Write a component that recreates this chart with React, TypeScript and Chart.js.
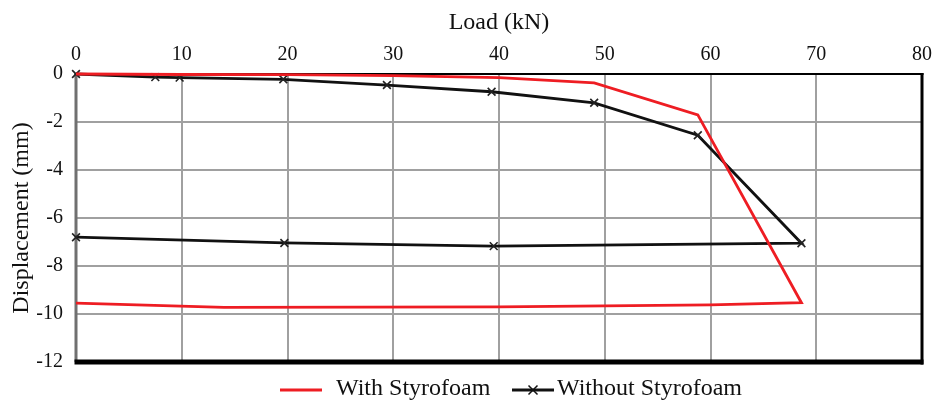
import React, { useEffect, useRef } from "react";
import { Chart, registerables } from "chart.js";

Chart.register(...registerables);

// ---- data ----
const seriesNames = ["With Styrofoam", "Without Styrofoam"];
const loadWith = [0, 10, 20, 30, 40, 49, 58.8, 68.6, 60, 40, 14, 0];
const dispWith = [0, -0.02, -0.03, -0.07, -0.15, -0.37, -1.7, -9.53, -9.62, -9.7, -9.72, -9.55];
const loadWithout = [0, 7.5, 9.8, 19.6, 29.4, 39.3, 49, 58.8, 68.6, 39.5, 19.7, 0];
const dispWithout = [0, -0.13, -0.15, -0.22, -0.46, -0.74, -1.2, -2.55, -7.05, -7.17, -7.04, -6.8];
const xTitle = "Load (kN)";
const yTitle = "Displacement (mm)";
const xRange = [0, 80];
const yRange = [-12, 0];
const xStep = 10;
const yStep = 2;

const RED = "#ee1d23";
const BLACK = "#111111";
const FONT = "'Liberation Serif', 'Times New Roman', serif";

const framePlugin = {
  id: "frame",
  beforeDatasetsDraw(chart: any) {
    const { ctx, chartArea } = chart;
    const { left, right, top, bottom } = chartArea;
    ctx.save();
    ctx.lineCap = "butt";
    ctx.strokeStyle = "#707070";
    ctx.lineWidth = 3;
    ctx.beginPath();
    ctx.moveTo(left, top);
    ctx.lineTo(left, bottom);
    ctx.stroke();
    ctx.strokeStyle = "#000";
    ctx.lineWidth = 2;
    ctx.beginPath();
    ctx.moveTo(left - 1.5, top);
    ctx.lineTo(right + 1.5, top);
    ctx.stroke();
    ctx.lineWidth = 3;
    ctx.beginPath();
    ctx.moveTo(right, top - 1);
    ctx.lineTo(right, bottom + 2.5);
    ctx.stroke();
    ctx.lineWidth = 5;
    ctx.beginPath();
    ctx.moveTo(left - 1.5, bottom);
    ctx.lineTo(right + 1.5, bottom);
    ctx.stroke();
    ctx.restore();
  },
};

// legend drawn below the plot: [line start, text start] for each series
const legendSlots = [
  [280, 336],
  [512, 557],
];
const legendPlugin = {
  id: "customLegend",
  afterDraw(chart: any) {
    const { ctx } = chart;
    const y = 390;
    ctx.save();
    chart.data.datasets.forEach((ds: any, i: number) => {
      const [lx, tx] = legendSlots[i];
      ctx.strokeStyle = ds.borderColor;
      ctx.lineWidth = 3;
      ctx.beginPath();
      ctx.moveTo(lx, y);
      ctx.lineTo(lx + 42, y);
      ctx.stroke();
      if (ds.pointRadius > 0) {
        const cx = lx + 21;
        const r = 4.5;
        ctx.lineWidth = 1.5;
        ctx.beginPath();
        ctx.moveTo(cx - r, y - r);
        ctx.lineTo(cx + r, y + r);
        ctx.moveTo(cx + r, y - r);
        ctx.lineTo(cx - r, y + r);
        ctx.stroke();
      }
      ctx.fillStyle = "#111";
      ctx.font = `24px ${FONT}`;
      ctx.textBaseline = "middle";
      ctx.textAlign = "left";
      ctx.fillText(ds.label, tx, y - 1);
    });
    ctx.restore();
  },
};

export default function App() {
  const ref = useRef<HTMLCanvasElement | null>(null);

  useEffect(() => {
    if (!ref.current) return;
    const chart = new Chart(ref.current, {
      type: "scatter",
      data: {
        datasets: [
          {
            label: seriesNames[0],
            data: loadWith.map((x, i) => ({ x, y: dispWith[i] })),
            showLine: true,
            borderColor: RED,
            backgroundColor: RED,
            borderWidth: 2.8,
            pointRadius: 0,
            tension: 0,
            clip: false as any,
          },
          {
            label: seriesNames[1],
            data: loadWithout.map((x, i) => ({ x, y: dispWithout[i] })),
            showLine: true,
            borderColor: BLACK,
            backgroundColor: BLACK,
            borderWidth: 2.8,
            pointStyle: "crossRot",
            pointRadius: 5.5,
            pointBorderWidth: 1.6,
            pointBorderColor: "#222",
            tension: 0,
            clip: false as any,
          },
        ],
      },
      options: {
        responsive: false,
        animation: false,
        devicePixelRatio: 1,
        layout: { padding: { left: 0, right: 10, top: 0, bottom: 38 } },
        plugins: {
          tooltip: { enabled: false },
          legend: { display: false },
        },
        scales: {
          x: {
            type: "linear",
            position: "top",
            min: xRange[0],
            max: xRange[1],
            ticks: {
              stepSize: xStep,
              padding: 7,
              color: "#111",
              font: { family: FONT, size: 20 },
              maxRotation: 0,
            },
            grid: { color: "#a0a0a0", lineWidth: 2, drawTicks: false },
            border: { display: false },
            title: {
              display: true,
              text: xTitle,
              color: "#111",
              font: { family: FONT, size: 24 },
              padding: { top: 8, bottom: 0 },
            },
            afterFit: (s: any) => {
              s.height = 74;
              s.paddingLeft = 0;
              s.paddingRight = 0;
            },
          },
          y: {
            type: "linear",
            position: "left",
            min: yRange[0],
            max: yRange[1],
            ticks: {
              stepSize: yStep,
              padding: 13,
              color: "#111",
              font: { family: FONT, size: 20 },
            },
            grid: { color: "#a0a0a0", lineWidth: 2, drawTicks: false },
            border: { display: false },
            title: {
              display: true,
              text: yTitle,
              color: "#111",
              font: { family: FONT, size: 24 },
              padding: { top: 7, bottom: 0 },
            },
            afterFit: (s: any) => {
              s.width = 76;
              s.paddingTop = 0;
              s.paddingBottom = 0;
            },
          },
        },
      },
      plugins: [framePlugin, legendPlugin],
    } as any);
    return () => chart.destroy();
  }, []);

  return (
    <div style={{ position: "absolute", left: 0, top: 0, width: 932, height: 400, background: "#fff" }}>
      <canvas ref={ref} width={932} height={400} style={{ display: "block" }} />
    </div>
  );
}
